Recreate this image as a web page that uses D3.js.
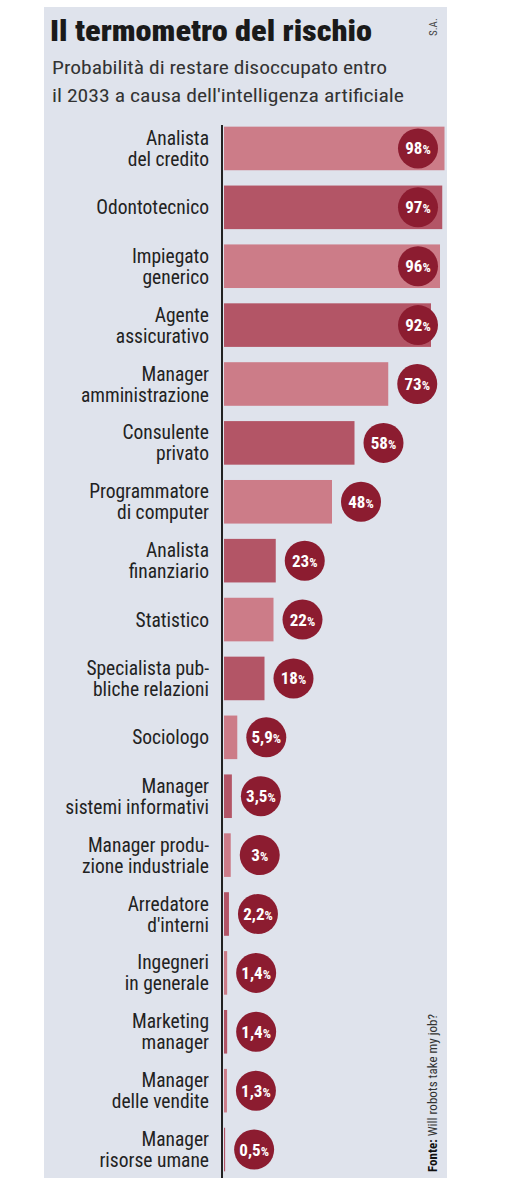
<!DOCTYPE html>
<html><head><meta charset="utf-8">
<script src="https://cdn.jsdelivr.net/npm/d3@7"></script>
<style>body{margin:0;background:#fff}</style></head>
<body><svg id="c" width="511" height="1200"></svg>
<script>
const categories = [["Analista","del credito"],["Odontotecnico"],["Impiegato","generico"],["Agente","assicurativo"],["Manager","amministrazione"],["Consulente","privato"],["Programmatore","di computer"],["Analista","finanziario"],["Statistico"],["Specialista pub-","bliche relazioni"],["Sociologo"],["Manager","sistemi informativi"],["Manager produ-","zione industriale"],["Arredatore","d'interni"],["Ingegneri","in generale"],["Marketing","manager"],["Manager","delle vendite"],["Manager","risorse umane"]];
const values = [98,97,96,92,73,58,48,23,22,18,5.9,3.5,3,2.2,1.4,1.4,1.3,0.5];
const labels = ["98%","97%","96%","92%","73%","58%","48%","23%","22%","18%","5,9%","3,5%","3%","2,2%","1,4%","1,4%","1,3%","0,5%"];

const svg = d3.select("#c");
const F = "'Roboto Condensed','Liberation Sans Narrow','Roboto',sans-serif";
svg.append("rect").attr("x",44).attr("y",7).attr("width",403).attr("height",1171).attr("fill","#dfe3ec");
svg.append("text").attr("x",50).attr("y",41).attr("font-family",F).attr("font-weight",900).attr("font-size",29).attr("fill","#1a1a1a").attr("textLength",322).attr("lengthAdjust","spacingAndGlyphs").text("Il termometro del rischio");
svg.append("text").attr("x",52).attr("y",74).attr("font-family",F).attr("font-size",19).attr("fill","#333").attr("textLength",335).attr("lengthAdjust","spacingAndGlyphs").text("Probabilità di restare disoccupato entro");
svg.append("text").attr("x",52).attr("y",102).attr("font-family",F).attr("font-size",19).attr("fill","#333").attr("textLength",352).attr("lengthAdjust","spacingAndGlyphs").text("il 2033 a causa dell'intelligenza artificiale");
svg.append("text").attr("transform","translate(437,36) rotate(-90)").attr("font-family",F).attr("font-size",11).attr("fill","#444").text("S.A.");
const src = svg.append("text").attr("transform","translate(437,1172) rotate(-90)").attr("font-family",F).attr("font-size",13).attr("fill","#333");
src.append("tspan").attr("font-weight",700).attr("fill","#111").text("Fonte: ");
src.append("tspan").text("Will robots take my job?");

const x = d3.scaleLinear().domain([0,100]).range([224,449]);
const y = d3.scaleBand().domain(d3.range(values.length)).range([119,1179]).paddingInner(0.26).paddingOuter(0.13);
svg.append("line").attr("x1",222).attr("x2",222).attr("y1",125).attr("y2",1178).attr("stroke","#222").attr("stroke-width",2);
const g = svg.selectAll("g.r").data(values).join("g");
g.append("rect").attr("x",x(0)).attr("y",(d,i)=>y(i)).attr("height",y.bandwidth()).attr("width",d=>x(d)-x(0)).attr("fill",(d,i)=>i%2?"#b35566":"#cc7c88");
const cx = d=>Math.min(x(d)+29,418);
g.append("circle").attr("cx",cx).attr("cy",(d,i)=>y(i)+y.bandwidth()/2).attr("r",20).attr("fill","#8c1c30");
g.append("text").attr("x",cx).attr("y",(d,i)=>y(i)+y.bandwidth()/2+6).attr("text-anchor","middle").attr("font-family",F).attr("font-weight",700).attr("font-size",17).attr("fill","#fff").each(function(d,i){
  const t=d3.select(this), s=labels[i];
  t.append("tspan").text(s.slice(0,-1)); t.append("tspan").attr("font-size",13).text("%");
  const w=this.getComputedTextLength(); if(w>37) t.attr("textLength",37).attr("lengthAdjust","spacingAndGlyphs");
});
g.append("text").attr("text-anchor","end").attr("font-family",F).attr("font-size",19.5).attr("fill","#222").each(function(d,i){
  const lines=categories[i], c=y(i)+y.bandwidth()/2, t=d3.select(this);
  lines.forEach((l,k)=>t.append("tspan").attr("x",209).attr("y",c+7+(k-(lines.length-1)/2)*21).text(l));
});
</script></body></html>
